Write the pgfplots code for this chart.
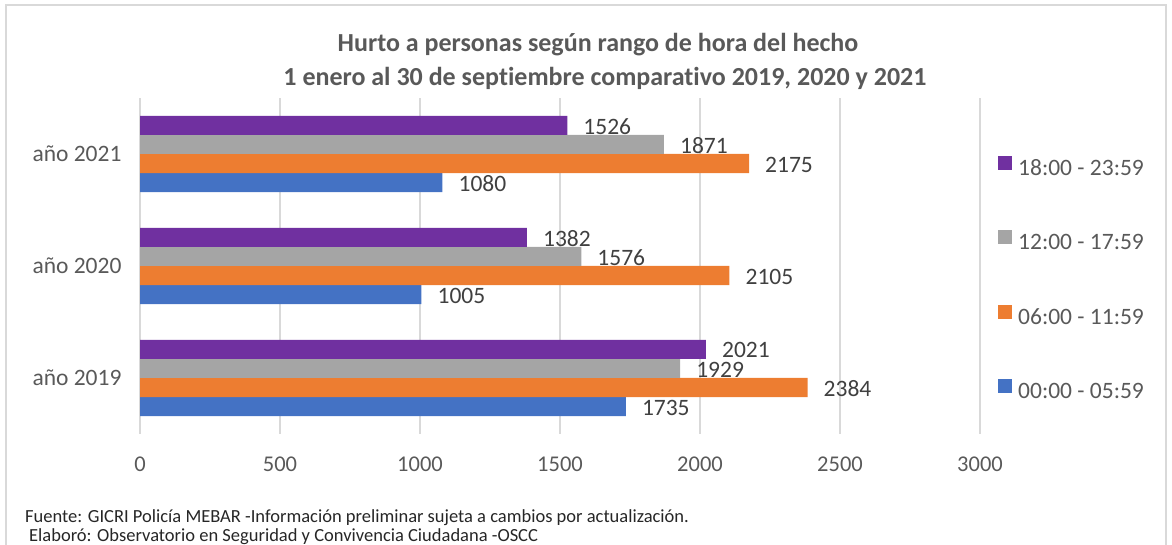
\documentclass[border=0pt]{standalone}
\usepackage{fontspec}
\setmainfont{Carlito}[Ligatures=NoCommon]
\usepackage{pgfplots}
\pgfplotsset{compat=1.18}
\definecolor{cpurple}{HTML}{7030A0}
\definecolor{cgray}{HTML}{A5A5A5}
\definecolor{corange}{HTML}{ED7D31}
\definecolor{cblue}{HTML}{4472C4}
\definecolor{gridc}{HTML}{D9D9D9}
\definecolor{txtgray}{HTML}{595959}
\definecolor{lblgray}{HTML}{404040}
\begin{document}
\begin{tikzpicture}[x=1pt,y=1pt]
\useasboundingbox (0,0) rectangle (1172,545);
\draw[gridc, line width=1.5pt] (6,-40) rectangle (1166,540);
\begin{axis}[
  at={(140pt,111pt)}, anchor=south west,
  scale only axis, width=840pt, height=336pt,
  xbar, bar width=0.17,
  xmin=0, xmax=3000, ymin=-0.5, ymax=2.5,
  xtick={0,500,1000,1500,2000,2500,3000},
  ytick={0,1,2},
  yticklabels={año 2019, año 2020, año 2021},
  axis line style={draw=none},
  major tick length=0pt,
  xmajorgrids, grid style={gridc, line width=1.5pt},
  /pgf/number format/assume math mode=true,
  /pgf/number format/1000 sep={},
  xticklabel style={font=\fontsize{22.5}{25}\selectfont, text=txtgray, yshift=-19pt},
  yticklabel style={font=\fontsize{23.5}{26}\selectfont, text=txtgray, xshift=-15pt},
  nodes near coords,
  nodes near coords style={font=\fontsize{23.5}{26}\selectfont, text=lblgray, anchor=west, inner sep=0pt, xshift=16pt, yshift=-1pt},
  reverse legend,
  legend cell align=left,
  legend image code/.code={\path[#1,draw=none] (0pt,0pt) rectangle (14pt,14pt); \path (20pt,0pt);},
  legend style={at={(axis description cs:1.0214,0.829)}, anchor=north west, draw=none, fill=none, inner sep=0pt,
    row sep=50pt, font=\fontsize{23.5}{26}\selectfont, text=txtgray,
    nodes={inner sep=0pt, text height=16pt, text depth=5pt}},
]
\addplot[fill=cblue, draw=none, bar shift=-0.255] coordinates {(1735,0) (1005,1) (1080,2)};
\addplot[fill=corange, draw=none, bar shift=-0.085] coordinates {(2384,0) (2105,1) (2175,2)};
\addplot[fill=cgray, draw=none, bar shift=0.085] coordinates {(1929,0) (1576,1) (1871,2)};
\addplot[fill=cpurple, draw=none, bar shift=0.255] coordinates {(2021,0) (1382,1) (1526,2)};
\legend{00:00 - 05:59, 06:00 - 11:59, 12:00 - 17:59, 18:00 - 23:59}
\end{axis}
\node[font=\bfseries\fontsize{26}{30}\selectfont, text=txtgray] at (598,500) {Hurto a personas según rango de hora del hecho};
\node[font=\bfseries\fontsize{26}{30}\selectfont, text=txtgray] at (605,467) {1 enero al 30 de septiembre comparativo 2019, 2020 y 2021};
\node[font=\fontsize{18.5}{20}\selectfont, anchor=base west, inner sep=0pt, text=black!85] at (25,22) {Fuente: GICRI Policía MEBAR -Información preliminar sujeta a cambios por actualización.};
\node[font=\fontsize{18.5}{20}\selectfont, anchor=base west, inner sep=0pt, text=black!85] at (29,3) {Elaboró: Observatorio en Seguridad y Convivencia Ciudadana -OSCC};
\end{tikzpicture}
\end{document}
